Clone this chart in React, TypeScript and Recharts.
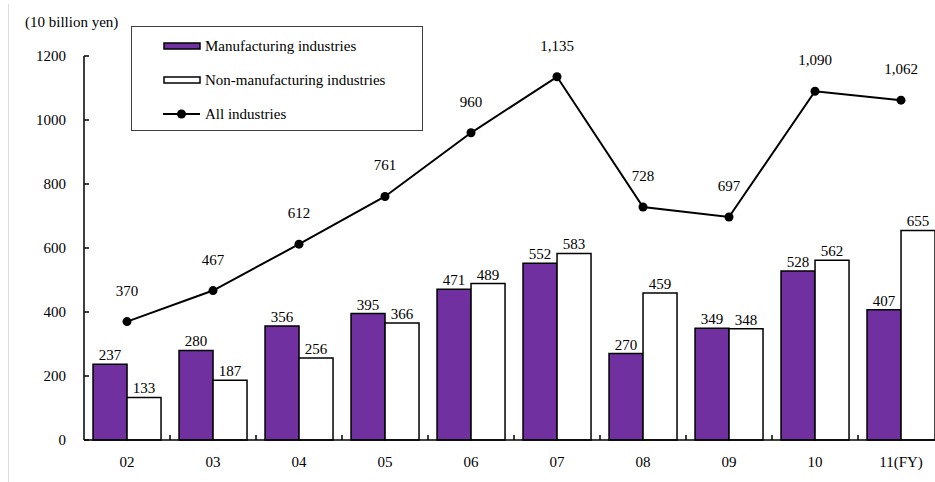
import React from 'react';
import { ComposedChart, Bar, Line, XAxis, YAxis, LabelList } from 'recharts';

const years = ['02', '03', '04', '05', '06', '07', '08', '09', '10', '11(FY)'];
const manufacturing = [237, 280, 356, 395, 471, 552, 270, 349, 528, 407];
const nonManufacturing = [133, 187, 256, 366, 489, 583, 459, 348, 562, 655];
const allIndustries = [370, 467, 612, 761, 960, 1135, 728, 697, 1090, 1062];
const yTicks = [0, 200, 400, 600, 800, 1000, 1200];
const seriesNames = ['Manufacturing industries', 'Non-manufacturing industries', 'All industries'];
const unitLabel = '(10 billion yen)';

const data = years.map((y, i) => ({
  year: y,
  mfg: manufacturing[i],
  nonMfg: nonManufacturing[i],
  all: allIndustries[i],
}));

const FONT = "'Liberation Serif', Tinos, 'Times New Roman', Times, 'DejaVu Serif', serif";
const FS = 15;
const PURPLE = '#7030A0';

const YTick = (props: any) => {
  const { x, y, payload } = props;
  return (
    <g>
      <line x1={x} x2={x + 5} y1={y} y2={y} stroke="#000" strokeWidth={1.5} />
      <text x={x - 18} y={y + 5} textAnchor="end" style={{ fontFamily: FONT }} fontSize={FS} fill="#000">
        {payload.value}
      </text>
    </g>
  );
};

const XTick = (props: any) => {
  const { x, y, payload, width, visibleTicksCount } = props;
  const half = width / visibleTicksCount / 2;
  return (
    <g>
      <line x1={x + half} x2={x + half} y1={y} y2={y - 5} stroke="#000" strokeWidth={1.5} />
      <text x={x} y={y + 27} textAnchor="middle" style={{ fontFamily: FONT }} fontSize={FS} fill="#000">
        {payload.value}
      </text>
    </g>
  );
};

const LineLabel = (props: any) => {
  const { x, y, value } = props;
  return (
    <text x={x} y={y - 26} textAnchor="middle" style={{ fontFamily: FONT }} fontSize={FS} fill="#000">
      {Number(value).toLocaleString('en-US')}
    </text>
  );
};

const BarLabel = (props: any) => {
  const { x, y, width, value } = props;
  return (
    <text x={x + width / 2} y={y - 4} textAnchor="middle" style={{ fontFamily: FONT }} fontSize={FS} fill="#000">
      {value}
    </text>
  );
};

const LegendBox = () => (
  <div
    style={{
      position: 'absolute',
      left: 131,
      top: 26,
      width: 290,
      height: 103,
      border: '1px solid #404040',
      background: '#fff',
      fontFamily: FONT,
      fontSize: FS,
      color: '#000',
    }}
  >
    {seriesNames.map((name, i) => (
      <div
        key={name}
        style={{
          position: 'absolute',
          left: 31,
          top: [10, 44, 78][i],
          height: 18,
          display: 'flex',
          alignItems: 'center',
          whiteSpace: 'nowrap',
        }}
      >
        <svg width={40} height={12} style={{ marginRight: 2 }}>
          {i < 2 ? (
            <rect x={1} y={3} width={36} height={6} fill={i === 0 ? PURPLE : '#fff'} stroke="#000" strokeWidth={1.5} />
          ) : (
            <g>
              <line x1={0} x2={37} y1={6} y2={6} stroke="#000" strokeWidth={2} />
              <circle cx={18.5} cy={6} r={4.5} fill="#000" />
            </g>
          )}
        </svg>
        <span>{name}</span>
      </div>
    ))}
  </div>
);

export default function App() {
  return (
    <div
      style={{
        position: 'absolute',
        left: 0,
        top: 0,
        width: 935,
        height: 482,
        overflow: 'hidden',
        background: '#fff',
      }}
    >
      <div style={{ position: 'absolute', left: 8, top: 4, width: 1, height: 478, background: '#dcdcdc' }} />
      <div
        style={{
          position: 'absolute',
          left: 25,
          top: 13,
          fontFamily: FONT,
          fontSize: FS,
          lineHeight: '18px',
          color: '#000',
          whiteSpace: 'nowrap',
        }}
      >
        {unitLabel}
      </div>
      <div style={{ position: 'absolute', left: 0, top: 0 }}>
        <ComposedChart
          width={960}
          height={482}
          data={data}
          margin={{ top: 56, right: 16, bottom: 0, left: 0 }}
          barCategoryGap="10.5%"
          barGap={0}
        >
          <XAxis
            dataKey="year"
            height={42}
            tickSize={0}
            tickMargin={0}
            tickLine={false}
            axisLine={{ stroke: '#000', strokeWidth: 1.5 }}
            tick={<XTick />}
            interval={0}
          />
          <YAxis
            width={84}
            domain={[0, 1200]}
            ticks={yTicks}
            tickSize={0}
            tickMargin={0}
            tickLine={false}
            axisLine={{ stroke: '#000', strokeWidth: 1.5 }}
            tick={<YTick />}
            interval={0}
          />
          <Bar dataKey="mfg" fill={PURPLE} stroke="#000" strokeWidth={1.5} isAnimationActive={false}>
            <LabelList dataKey="mfg" content={<BarLabel />} />
          </Bar>
          <Bar dataKey="nonMfg" fill="#fff" stroke="#000" strokeWidth={1.5} isAnimationActive={false}>
            <LabelList dataKey="nonMfg" content={<BarLabel />} />
          </Bar>
          <Line
            dataKey="all"
            type="linear"
            stroke="#000"
            strokeWidth={2}
            dot={{ r: 4.5, fill: '#000', stroke: '#000', strokeWidth: 0 }}
            activeDot={false}
            isAnimationActive={false}
          >
            <LabelList dataKey="all" content={<LineLabel />} />
          </Line>
        </ComposedChart>
      </div>
      <LegendBox />
    </div>
  );
}
